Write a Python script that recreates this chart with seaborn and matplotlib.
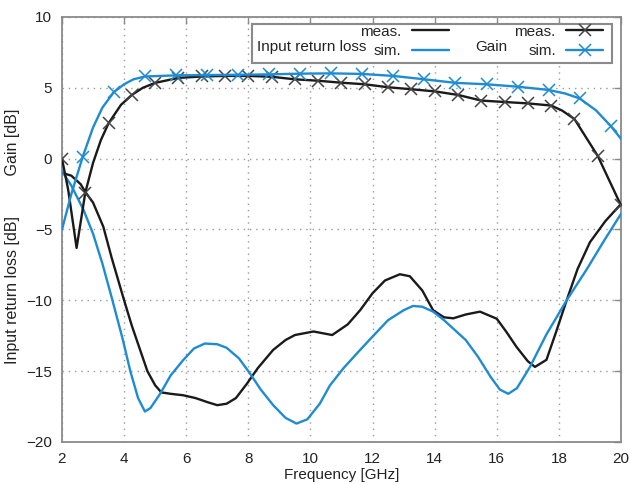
import matplotlib
matplotlib.use("Agg")
import matplotlib.pyplot as plt
import seaborn as sns
from matplotlib.lines import Line2D
from matplotlib.patches import Rectangle

sns.set_theme(style="white")
plt.rcParams['font.family'] = ['Liberation Sans', 'DejaVu Sans']

# ---------------- data ----------------
rl_meas_freq = [2.0, 2.3, 2.6, 2.75, 3.0, 3.33, 3.6, 3.8, 4.0, 4.25, 4.5, 4.75, 5.0, 5.2,
                5.5, 5.9, 6.3, 6.7, 7.0, 7.3, 7.6, 7.95, 8.3, 8.8, 9.2, 9.5, 10.1, 10.7,
                11.2, 11.6, 12.0, 12.4, 12.88, 13.2, 13.6, 13.95, 14.3, 14.6, 15.0, 15.46,
                16.0, 16.3, 16.64, 17.0, 17.23, 17.6, 17.9, 18.25, 18.6, 19.0, 19.5, 20.0]
rl_meas_val = [-1.0, -1.2, -1.8, -2.35, -3.1, -4.8, -7.0, -8.5, -10.0, -11.8, -13.4, -15.0,
               -16.0, -16.5, -16.6, -16.7, -16.9, -17.2, -17.4, -17.3, -16.9, -15.9, -14.8,
               -13.5, -12.8, -12.45, -12.2, -12.45, -11.7, -10.7, -9.5, -8.6, -8.16, -8.3,
               -9.3, -10.7, -11.2, -11.27, -11.0, -10.8, -11.3, -12.2, -13.3, -14.3, -14.7,
               -14.2, -12.3, -10.0, -7.8, -5.9, -4.4, -3.2]

rl_sim_freq = [2.0, 2.3, 2.69, 3.0, 3.3, 3.6, 3.95, 4.2, 4.45, 4.67, 4.85, 5.16, 5.5, 5.91,
               6.25, 6.6, 7.0, 7.3, 7.7, 8.05, 8.4, 8.8, 9.2, 9.55, 9.9, 10.3, 10.63, 11.06,
               11.6, 12.0, 12.5, 13.0, 13.3, 13.6, 13.95, 14.3, 14.6, 15.0, 15.4, 15.8, 16.1,
               16.37, 16.65, 17.07, 17.6, 18.25, 18.9, 19.48, 20.0]
rl_sim_val = [-0.9, -1.9, -3.6, -5.3, -7.4, -9.8, -12.7, -15.0, -16.9, -17.85, -17.6, -16.6,
              -15.3, -14.2, -13.4, -13.05, -13.1, -13.35, -14.1, -15.15, -16.3, -17.4, -18.3,
              -18.7, -18.4, -17.3, -16.0, -14.8, -13.5, -12.56, -11.4, -10.7, -10.4, -10.45,
              -10.8, -11.4, -12.0, -12.8, -14.0, -15.4, -16.3, -16.6, -16.2, -14.7, -12.4,
              -10.0, -7.8, -5.7, -3.9]

gain_meas_freq = [2.0, 2.2, 2.47, 2.6, 2.75, 3.0, 3.25, 3.5, 3.9, 4.25, 4.6, 5.0, 5.75, 6.5,
                  7.25, 8.0, 8.75, 9.5, 10.25, 11.0, 11.75, 12.5, 13.25, 14.0, 14.75, 15.5,
                  16.25, 17.0, 17.75, 18.1, 18.5, 19.25, 20.0]
gain_meas_val = [0.0, -2.2, -6.3, -4.5, -2.4, -0.3, 1.3, 2.5, 3.8, 4.5, 5.0, 5.35, 5.7, 5.8,
                 5.84, 5.84, 5.78, 5.6, 5.5, 5.36, 5.25, 5.04, 4.9, 4.75, 4.5, 4.1, 4.0, 3.9,
                 3.75, 3.4, 2.8, 0.2, -3.3]
gain_meas_marker_freq = [2.0, 2.75, 3.5, 4.25, 5.0, 5.75, 6.5, 7.25, 8.0, 8.75, 9.5, 10.25,
                         11.0, 11.75, 12.5, 13.25, 14.0, 14.75, 15.5, 16.25, 17.0, 17.75,
                         18.5, 19.25, 20.0]

gain_sim_freq = [2.0, 2.3, 2.67, 3.0, 3.3, 3.67, 4.0, 4.3, 4.67, 5.67, 6.67, 7.67, 8.67, 9.67,
                 10.67, 11.67, 12.67, 13.67, 14.67, 15.67, 16.67, 17.67, 18.2, 18.67, 19.2,
                 19.67, 20.0]
gain_sim_val = [-5.0, -2.5, 0.15, 2.2, 3.6, 4.7, 5.25, 5.6, 5.8, 5.88, 5.9, 5.92, 5.95, 6.0,
                6.02, 5.98, 5.84, 5.6, 5.35, 5.25, 5.08, 4.85, 4.6, 4.25, 3.4, 2.3, 1.4]
gain_sim_marker_freq = [2.67, 3.67, 4.67, 5.67, 6.67, 7.67, 8.67, 9.67, 10.67, 11.67, 12.67,
                        13.67, 14.67, 15.67, 16.67, 17.67, 18.67, 19.67]

x_ticks = [2, 4, 6, 8, 10, 12, 14, 16, 18, 20]
y_ticks = [-20, -15, -10, -5, 0, 5, 10]

BLACK = "#1a1a1a"
BLUE = "#1e8bd3"
GRAY = "#8a8a8a"

meas_idx = [gain_meas_freq.index(f) for f in gain_meas_marker_freq]
sim_idx = [gain_sim_freq.index(f) for f in gain_sim_marker_freq]

fig = plt.figure(figsize=(6.3, 4.84), dpi=100)
ax = fig.add_axes([0.0984, 0.0868, 0.8873, 0.8781])

lw = 1.7
sns.lineplot(x=rl_meas_freq, y=rl_meas_val, ax=ax, color=BLACK, lw=lw, sort=False,
             estimator=None, zorder=3)
sns.lineplot(x=rl_sim_freq, y=rl_sim_val, ax=ax, color=BLUE, lw=lw, sort=False,
             estimator=None, zorder=3)
sns.lineplot(x=gain_meas_freq, y=gain_meas_val, ax=ax, color=BLACK, lw=lw, sort=False,
             estimator=None, marker="x", markevery=meas_idx, markersize=9,
             markeredgewidth=1.1, markeredgecolor="#444444", zorder=3)
sns.lineplot(x=gain_sim_freq, y=gain_sim_val, ax=ax, color=BLUE, lw=lw, sort=False,
             estimator=None, marker="x", markevery=sim_idx, markersize=9,
             markeredgewidth=1.1, markeredgecolor=BLUE, zorder=3)

ax.set_xlim(2, 20)
ax.set_ylim(-20, 10)
ax.set_xticks(x_ticks)
ax.set_yticks(y_ticks)
ax.grid(True, linestyle=(0, (1, 3.5)), color="#9a9a9a", lw=1.0)
ax.set_axisbelow(True)
for s in ax.spines.values():
    s.set_color(GRAY)
    s.set_linewidth(1.3)
ax.tick_params(direction="in", length=5, width=1.0, top=True, right=True,
               color=GRAY, labelsize=11, labelcolor="#222222", pad=7)

ax.set_xlabel("Frequency [GHz]", fontsize=11, color="#222222", labelpad=2)
ax.set_ylabel("Input return loss [dB]         Gain [dB]", fontsize=11.5, color="#222222")
ax.yaxis.set_label_coords(-0.075, 0.485)

# legend box
box = Rectangle((0.340, 0.892), 0.644, 0.092, transform=ax.transAxes, facecolor="white",
                edgecolor=GRAY, lw=1.5, zorder=5)
ax.add_patch(box)
handles = [Line2D([], [], color=BLACK, lw=lw),
           Line2D([], [], color=BLUE, lw=lw),
           Line2D([], [], color=BLACK, lw=lw, marker="x", markersize=9,
                  markeredgecolor="#444444", markeredgewidth=1.1),
           Line2D([], [], color=BLUE, lw=lw, marker="x", markersize=9,
                  markeredgewidth=1.1)]
leg = ax.legend(handles=handles, labels=["meas.", "sim.", "meas.", "sim."], ncol=2,
                markerfirst=False, frameon=False, loc="upper right",
                bbox_to_anchor=(0.968, 0.982), borderaxespad=0, borderpad=0,
                fontsize=11, handlelength=2.4, handletextpad=0.7, columnspacing=4.3,
                labelspacing=0.35)
leg.set_zorder(6)
ax.text(0.447, 0.929, "Input return loss", transform=ax.transAxes, ha="center",
        va="center", fontsize=11, color="#222222", zorder=7)
ax.text(0.768, 0.929, "Gain", transform=ax.transAxes, ha="center", va="center",
        fontsize=11, color="#222222", zorder=7)

fig.savefig("out.png", dpi=100)
